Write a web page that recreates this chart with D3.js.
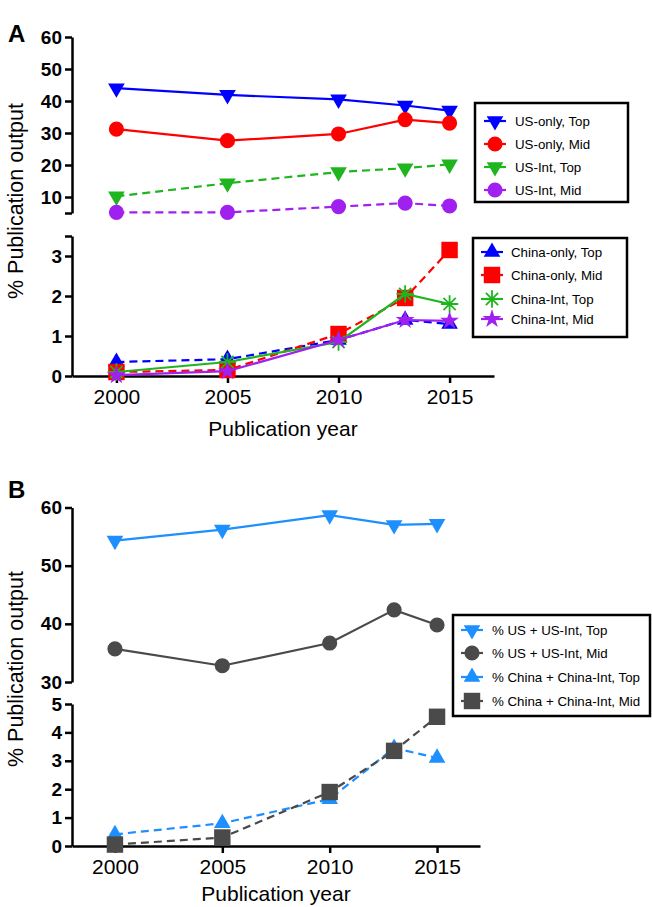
<!DOCTYPE html>
<html>
<head>
<meta charset="utf-8">
<script src="https://cdn.jsdelivr.net/npm/d3@7"></script>
<style>
  html, body { margin: 0; padding: 0; background: #fff; }
  svg { display: block; font-family: "Liberation Sans", Arial, sans-serif; }
</style>
</head>
<body>
<script>
// ---------- DATA ----------
const years = [2000, 2005, 2010, 2013, 2015];
const xTicks = [2000, 2005, 2010, 2015];

// Panel A, upper segment
const usOnlyTop = [44.0, 41.9, 40.5, 38.6, 37.0];
const usOnlyMid = [31.2, 27.6, 29.7, 34.2, 33.1];
const usIntTop  = [10.2, 14.3, 17.8, 19.0, 20.2];
const usIntMid  = [5.2, 5.2, 7.0, 8.1, 7.2];
// Panel A, lower segment
const chinaOnlyTop = [0.35, 0.42, 0.90, 1.40, 1.30];
const chinaOnlyMid = [0.10, 0.15, 1.05, 1.95, 3.15];
const chinaIntTop  = [0.10, 0.35, 0.85, 2.05, 1.80];
const chinaIntMid  = [0.02, 0.12, 0.90, 1.40, 1.38];
// Panel B
const usAllTop    = [54.3, 56.2, 58.7, 57.0, 57.2];
const usAllMid    = [35.7, 32.8, 36.7, 42.4, 39.8];
const chinaAllTop = [0.41, 0.80, 1.65, 3.45, 3.10];
const chinaAllMid = [0.05, 0.30, 1.90, 3.35, 4.55];

// Tick values / labels
const yTicksATop = [5, 10, 20, 30, 40, 50, 60];
const yLabelsATop = ["", "10", "20", "30", "40", "50", "60"];
const yTicksABot = [0, 1, 2, 3, 3.5];
const yLabelsABot = ["0", "1", "2", "3", ""];
const yTicksBTop = [30, 40, 50, 60];
const yTicksBBot = [0, 1, 2, 3, 4, 5];

const legendA1 = ["US-only, Top", "US-only, Mid", "US-Int, Top", "US-Int, Mid"];
const legendA2 = ["China-only, Top", "China-only, Mid", "China-Int, Top", "China-Int, Mid"];
const legendB = ["% US + US-Int, Top", "% US + US-Int, Mid", "% China + China-Int, Top", "% China + China-Int, Mid"];

const xLabel = "Publication year";
const yLabel = "% Publication output";

// ---------- STYLE ----------
const C = {
  blue: "#0000ff", red: "#ff0000", green: "#1fb51f", purple: "#a020f0",
  dblue: "#1e8fff", grey: "#4a4a4a"
};

const svg = d3.select("body").append("svg").attr("width", 652).attr("height", 907);

// ---------- SYMBOLS ----------
function markerPath(type, size) {
  if (type === "tridown" || type === "triup") return d3.symbol(d3.symbolTriangle, size)();
  if (type === "circle") return d3.symbol(d3.symbolCircle, size)();
  if (type === "square") return d3.symbol(d3.symbolSquare, size)();
  if (type === "star") return d3.symbol(d3.symbolStar, size)();
  if (type === "asterisk") {
    const r = Math.sqrt(size) / 2;
    const p = d3.path();
    for (let i = 0; i < 4; i++) {
      const a = i * Math.PI / 4;
      p.moveTo(-r * Math.cos(a), -r * Math.sin(a));
      p.lineTo(r * Math.cos(a), r * Math.sin(a));
    }
    return p.toString();
  }
}
function drawMarker(g, type, x, y, color, size) {
  const m = g.append("path")
    .attr("d", markerPath(type, size))
    .attr("transform", `translate(${x},${y})` + (type === "tridown" ? " rotate(180)" : ""));
  if (type === "asterisk") m.attr("fill", "none").attr("stroke", color).attr("stroke-width", 1.8);
  else m.attr("fill", color);
}

function drawSeries(g, x, y, vals, color, dashed, type, size) {
  const pts = years.map((yr, i) => [x(yr), y(vals[i])]);
  g.append("path")
    .attr("d", d3.line()(pts))
    .attr("fill", "none")
    .attr("stroke", color)
    .attr("stroke-width", 2.2)
    .attr("stroke-dasharray", dashed ? "8,5" : null);
  pts.forEach(p => drawMarker(g, type, p[0], p[1], color, size));
}

function styleAxis(sel) {
  sel.select(".domain").attr("stroke", "#000").attr("stroke-width", 2.5);
  sel.selectAll(".tick line").attr("stroke", "#000").attr("stroke-width", 2.5);
}

function yAxis(scale, ticks, labels) {
  const g = svg.append("g").attr("transform", "translate(72,0)")
    .call(d3.axisLeft(scale).tickValues(ticks).tickSize(7).tickSizeOuter(0).tickPadding(3)
      .tickFormat((d, i) => labels[i]));
  styleAxis(g);
  g.selectAll(".tick text").attr("font-size", 19).attr("font-weight", "bold").attr("fill", "#000")
    .attr("font-family", "Liberation Sans, Arial, sans-serif");
  return g;
}
function xAxis(scale, yPos) {
  const g = svg.append("g").attr("transform", `translate(0,${yPos})`)
    .call(d3.axisBottom(scale).tickValues(xTicks).tickSize(7).tickSizeOuter(0).tickPadding(6)
      .tickFormat(d3.format("d")));
  styleAxis(g);
  g.selectAll(".tick text").attr("font-size", 21).attr("font-weight", "normal").attr("fill", "#000")
    .attr("font-family", "Liberation Sans, Arial, sans-serif");
  return g;
}

function legend(x0, y0, w, h, markerX, textX, rows, entries) {
  const g = svg.append("g");
  g.append("rect").attr("x", x0).attr("y", y0).attr("width", w).attr("height", h)
    .attr("fill", "#fff").attr("stroke", "#000").attr("stroke-width", 2.5);
  entries.forEach((e, i) => {
    g.append("line").attr("x1", markerX - 11).attr("x2", markerX + 11)
      .attr("y1", rows[i]).attr("y2", rows[i]).attr("stroke", e.color).attr("stroke-width", 2.2);
    drawMarker(g, e.type, markerX, rows[i], e.color, e.size);
    g.append("text").attr("x", textX).attr("y", rows[i] + 4.8).attr("font-size", 13.3)
      .attr("fill", "#000").text(e.label);
  });
}

// ---------- PANEL A ----------
const xA = d3.scaleLinear().domain([1998, 2017]).range([72, 494]);
const yATop = d3.scaleLinear().domain([5, 60]).range([213, 37]);
const yABot = d3.scaleLinear().domain([0, 3.5]).range([376, 236]);

yAxis(yATop, yTicksATop, yLabelsATop);
yAxis(yABot, yTicksABot, yLabelsABot);
xAxis(xA, 376);

const gA = svg.append("g");
drawSeries(gA, xA, yATop, usOnlyTop, C.blue, false, "tridown", 120);
drawSeries(gA, xA, yATop, usOnlyMid, C.red, false, "circle", 180);
drawSeries(gA, xA, yATop, usIntTop, C.green, true, "tridown", 120);
drawSeries(gA, xA, yATop, usIntMid, C.purple, true, "circle", 180);

drawSeries(gA, xA, yABot, chinaOnlyTop, C.blue, true, "triup", 120);
drawSeries(gA, xA, yABot, chinaOnlyMid, C.red, true, "square", 270);
drawSeries(gA, xA, yABot, chinaIntTop, C.green, false, "asterisk", 300);
drawSeries(gA, xA, yABot, chinaIntMid, C.purple, false, "star", 110);

legend(475, 103, 153, 99, 495, 515, [121, 144, 167, 190], [
  {label: legendA1[0], color: C.blue, type: "tridown", size: 120},
  {label: legendA1[1], color: C.red, type: "circle", size: 180},
  {label: legendA1[2], color: C.green, type: "tridown", size: 120},
  {label: legendA1[3], color: C.purple, type: "circle", size: 180}
]);
legend(473, 238, 154, 99, 492, 511, [252, 275, 299, 319], [
  {label: legendA2[0], color: C.blue, type: "triup", size: 120},
  {label: legendA2[1], color: C.red, type: "square", size: 270},
  {label: legendA2[2], color: C.green, type: "asterisk", size: 300},
  {label: legendA2[3], color: C.purple, type: "star", size: 110}
]);

svg.append("text").attr("x", 8).attr("y", 42).attr("font-size", 24).attr("font-weight", "bold").text("A");
svg.append("text").attr("x", 283).attr("y", 436).attr("text-anchor", "middle").attr("font-size", 21).text(xLabel);
svg.append("text").attr("transform", "translate(23,201) rotate(-90)").attr("text-anchor", "middle")
  .attr("font-size", 21.5).text(yLabel);

// ---------- PANEL B ----------
const xB = d3.scaleLinear().domain([1998, 2017]).range([72, 480]);
const yBTop = d3.scaleLinear().domain([30, 60]).range([682, 507.5]);
const yBBot = d3.scaleLinear().domain([0, 5]).range([846, 704]);

yAxis(yBTop, yTicksBTop, yTicksBTop.map(String));
yAxis(yBBot, yTicksBBot, yTicksBBot.map(String));
xAxis(xB, 846);

const gB = svg.append("g");
drawSeries(gB, xB, yBTop, usAllTop, C.dblue, false, "tridown", 120);
drawSeries(gB, xB, yBTop, usAllMid, C.grey, false, "circle", 180);
drawSeries(gB, xB, yBBot, chinaAllTop, C.dblue, true, "triup", 120);
drawSeries(gB, xB, yBBot, chinaAllMid, C.grey, true, "square", 270);

legend(453, 615, 197, 101, 472, 492, [630, 653, 677, 701], [
  {label: legendB[0], color: C.dblue, type: "tridown", size: 120},
  {label: legendB[1], color: C.grey, type: "circle", size: 180},
  {label: legendB[2], color: C.dblue, type: "triup", size: 120},
  {label: legendB[3], color: C.grey, type: "square", size: 270}
]);

svg.append("text").attr("x", 8).attr("y", 498).attr("font-size", 24).attr("font-weight", "bold").text("B");
svg.append("text").attr("x", 276).attr("y", 901).attr("text-anchor", "middle").attr("font-size", 21).text(xLabel);
svg.append("text").attr("transform", "translate(23,669) rotate(-90)").attr("text-anchor", "middle")
  .attr("font-size", 21.5).text(yLabel);
</script>
</body>
</html>
